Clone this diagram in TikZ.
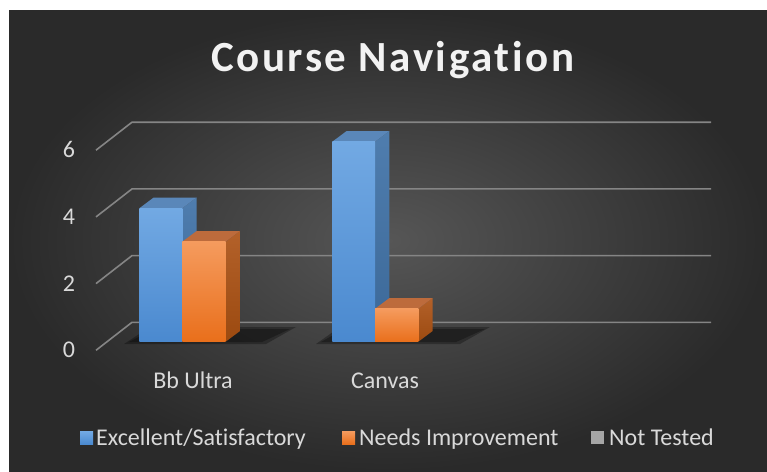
\documentclass[tikz,border=0pt]{standalone}
\usepackage{fontspec}
\setmainfont{Carlito}[Ligatures=NoCommon]
\newfontfamily\titlefont{Carlito}[LetterSpace=6,Ligatures=NoCommon]
\definecolor{bgin}{HTML}{565656}
\definecolor{bgout}{HTML}{2A2A2A}
\definecolor{gridgray}{HTML}{858585}
\definecolor{labelgray}{HTML}{D9D9D9}
\definecolor{titlewhite}{HTML}{F2F2F2}
\definecolor{bluetop}{HTML}{72A9E3}
\definecolor{bluebot}{HTML}{4A89CF}
\definecolor{bluesidetop}{HTML}{4F7DAE}
\definecolor{bluesidebot}{HTML}{3B6898}
\definecolor{bluelid}{HTML}{5A87B9}
\definecolor{orangetop}{HTML}{F59B5E}
\definecolor{orangebot}{HTML}{E96F1B}
\definecolor{orangesidetop}{HTML}{B3612A}
\definecolor{orangesidebot}{HTML}{9C4A10}
\definecolor{orangelid}{HTML}{BD6B3C}
\definecolor{notgray}{HTML}{A6A6A6}
\newcommand\cbar[9]{%
  \shade[top color=#6, bottom color=#7] (#2,#3) -- ++(14.3,-10.7) -- (#2+14.3,331) -- (#2,341.7) -- cycle;
  \fill[#8] (#1,#3) -- ++(14.3,-10.7) -- (#2+14.3,#3-10.7) -- (#2,#3) -- cycle;
  \shade[top color=#4, bottom color=#5] (#1,#3) rectangle (#2,341.7);
}
\begin{document}
\begin{tikzpicture}[x=1pt,y=-1pt,
  lbl/.style={text=labelgray, font=\fontsize{24}{27}\selectfont, inner sep=0pt},
  gridline/.style={draw=gridgray, line width=1.6pt},
  floorshadow/.style={fill=black, opacity=0.3},
  legsq/.style={minimum width=13pt, minimum height=13pt, inner sep=0pt, anchor=south west}]
\useasboundingbox (0,0) rectangle (767,471);
\fill[white] (0,0) rectangle (767,471);
\shade[inner color=bgin, outer color=bgout] (9,10) rectangle (767,471);
% grid and axis labels
\foreach \v/\yy in {0/322.3,2/255.6,4/188.9,6/122.2}{
  \coordinate (gf\v) at (96,\yy+28);
  \coordinate (gb\v) at (132,\yy);
  \coordinate (ge\v) at (711,\yy);
  \draw[gridline] (gf\v) -- (gb\v) -- (ge\v);
  \node[lbl, anchor=base] (ylab\v) at (69,\yy+35.5) {\v};
}
% floor shadows
\fill[floorshadow] (124,344) -- (266,344) -- (296,327) -- (150,327) -- cycle;
\fill[floorshadow] (129,342) -- (262,342) -- (290,329) -- (154,329) -- cycle;
\fill[floorshadow] (316,344) -- (460,344) -- (490,327) -- (340,327) -- cycle;
\fill[floorshadow] (321,342) -- (456,342) -- (485,329) -- (344,329) -- cycle;
% bars
\cbar{139.3}{182.3}{208.3}{bluetop}{bluebot}{bluesidetop}{bluesidebot}{bluelid}{}
\cbar{182.3}{225.7}{241.7}{orangetop}{orangebot}{orangesidetop}{orangesidebot}{orangelid}{}
\cbar{332.3}{375}{141.7}{bluetop}{bluebot}{bluesidetop}{bluesidebot}{bluelid}{}
\cbar{375}{418.3}{308.8}{orangetop}{orangebot}{orangesidetop}{orangesidebot}{orangelid}{}
% category labels
\node[lbl, anchor=base] (catbb) at (193,388.5) {Bb Ultra};
\node[lbl, anchor=base] (catcv) at (385,388.5) {Canvas};
% title
\node[anchor=base, inner sep=0pt, text=titlewhite, font=\titlefont\fontsize{43}{46}\selectfont\bfseries] (title) at (392.7,71.7) {Course Navigation};
% legend
\node[legsq, top color=bluetop, bottom color=bluebot] (sq1) at (80,444.5) {};
\node[lbl, anchor=base west] (leg1) at (96,445) {Excellent/Satisfactory};
\node[legsq, top color=orangetop, bottom color=orangebot] (sq2) at (342,444.5) {};
\node[lbl, anchor=base west] (leg2) at (359,445) {Needs Improvement};
\node[legsq, fill=notgray] (sq3) at (591,444.5) {};
\node[lbl, anchor=base west] (leg3) at (609,445) {Not Tested};
\end{tikzpicture}
\end{document}
